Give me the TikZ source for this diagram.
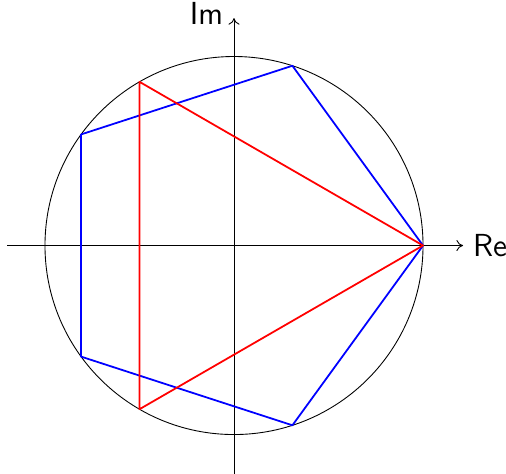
\documentclass[tikz,border=0pt]{standalone}
\usetikzlibrary{arrows.meta}
\begin{document}
\begin{tikzpicture}[
  axis/.style={->,>={To[length=3pt,width=5pt]}},
  pent/.style={blue,thick,line join=round},
  tri/.style={red,thick,line join=round},
  lbl/.style={font=\sffamily\Large}
]
\useasboundingbox (-3.714,-3.611) rectangle (4.317,3.897);
\coordinate (O) at (0,0);
\draw (O) circle (3);
\coordinate (xs) at (-3.60,0);
\coordinate (xe) at (3.635,0);
\coordinate (ys) at (0,-3.62);
\coordinate (ye) at (0,3.61);
\draw[axis] (xs) -- (xe);
\draw[axis] (ys) -- (ye);
\node[lbl,anchor=west] (re) at (3.67,0) {Re};
\node[lbl,anchor=south east] (im) at (-0.05,3.39) {Im};
\foreach \i in {0,...,4} \coordinate (p\i) at ({72*\i}:3);
\foreach \i in {0,1,2} \coordinate (t\i) at ({120*\i}:3);
\draw[pent] (p0) -- (p1) -- (p2) -- (p3) -- (p4) -- cycle;
\draw[tri] (t0) -- (t1) -- (t2) -- cycle;
\end{tikzpicture}
\end{document}
